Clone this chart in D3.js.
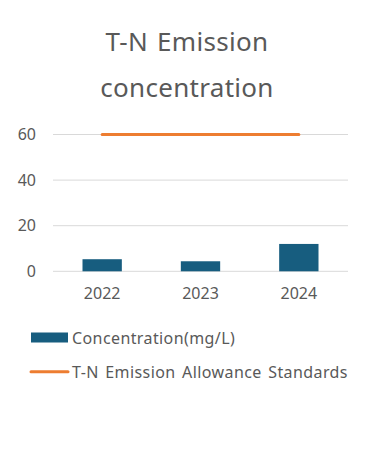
<!DOCTYPE html>
<html>
<head>
<meta charset="utf-8">
<script src="https://cdn.jsdelivr.net/npm/d3@7"></script>
<style>
  body { margin: 0; background: #fff; }
  text { font-family: "Noto Sans", "Open Sans", sans-serif; }
</style>
</head>
<body>
<div id="chart"></div>
<script>
const years = ["2022", "2023", "2024"];
const concentration = [5.3, 4.4, 12.0];
const allowance = [60, 60, 60];
const yTicks = [0, 20, 40, 60];
const titleLines = ["T-N Emission", "concentration"];
const legendLabels = ["Concentration(mg/L)", "T-N Emission Allowance Standards"];

const width = 370, height = 450;
const margin = { left: 53, right: 22, top: 134.5, bottom: 178.7 };

const svg = d3.select("#chart").append("svg")
  .attr("width", width)
  .attr("height", height);

// title
svg.selectAll("text.title")
  .data(titleLines)
  .enter().append("text")
  .attr("class", "title")
  .attr("x", 187)
  .attr("y", (d, i) => 51 + i * 46)
  .attr("text-anchor", "middle")
  .attr("font-size", "26px")
  .attr("letter-spacing", "0.3px")
  .attr("word-spacing", "2px")
  .attr("fill", "#595959")
  .text(d => d);

let x = d3.scaleBand()
  .domain(years)
  .range([margin.left, width - margin.right]);

let y = d3.scaleLinear()
  .domain([0, 60])
  .range([height - margin.bottom, margin.top]);

// gridlines
svg.append("g")
  .selectAll("line")
  .data(yTicks)
  .enter().append("line")
  .attr("x1", margin.left)
  .attr("x2", width - margin.right)
  .attr("y1", d => y(d))
  .attr("y2", d => y(d))
  .attr("stroke", "#d9d9d9")
  .attr("stroke-width", 1);

// y axis labels
let yAxis = svg.append("g")
  .attr("transform", "translate(36,0)")
  .call(d3.axisLeft(y).tickValues(yTicks).tickSize(0).tickPadding(0));
yAxis.select(".domain").remove();
yAxis.selectAll("text")
  .attr("font-size", "16px")
  .attr("fill", "#595959")
  .style("font-family", "'Noto Sans', sans-serif");

// x axis labels
let xAxis = svg.append("g")
  .attr("transform", "translate(0," + (y(0) + 16) + ")")
  .call(d3.axisBottom(x).tickSize(0).tickPadding(0));
xAxis.select(".domain").remove();
xAxis.selectAll("text")
  .attr("font-size", "16px")
  .attr("fill", "#595959")
  .style("font-family", "'Noto Sans', sans-serif");

// bars
let barW = x.bandwidth() * 0.4;
svg.append("g")
  .selectAll("rect")
  .data(concentration)
  .enter().append("rect")
  .attr("x", (d, i) => x(years[i]) + x.bandwidth() / 2 - barW / 2)
  .attr("y", d => y(d))
  .attr("width", barW)
  .attr("height", d => y(0) - y(d))
  .attr("fill", "#175d7f");

// allowance line
let line = d3.line()
  .x((d, i) => x(years[i]) + x.bandwidth() / 2)
  .y(d => y(d));

svg.append("path")
  .datum(allowance)
  .attr("d", line)
  .attr("fill", "none")
  .attr("stroke", "#ed7d31")
  .attr("stroke-width", 3)
  .attr("stroke-linecap", "round");

// legend
let legend = svg.append("g");
legend.append("rect")
  .attr("x", 31).attr("y", 332.5)
  .attr("width", 37).attr("height", 10)
  .attr("fill", "#175d7f");
legend.append("line")
  .attr("x1", 31).attr("x2", 68)
  .attr("y1", 371.7).attr("y2", 371.7)
  .attr("stroke", "#ed7d31")
  .attr("stroke-width", 3)
  .attr("stroke-linecap", "round");
legend.selectAll("text")
  .data(legendLabels)
  .enter().append("text")
  .attr("x", 72)
  .attr("y", (d, i) => 338 + i * 34)
  .attr("dy", "0.35em")
  .attr("font-size", "16px")
  .attr("letter-spacing", "0.4px")
  .attr("word-spacing", "2px")
  .attr("fill", "#595959")
  .text(d => d);
</script>
</body>
</html>
